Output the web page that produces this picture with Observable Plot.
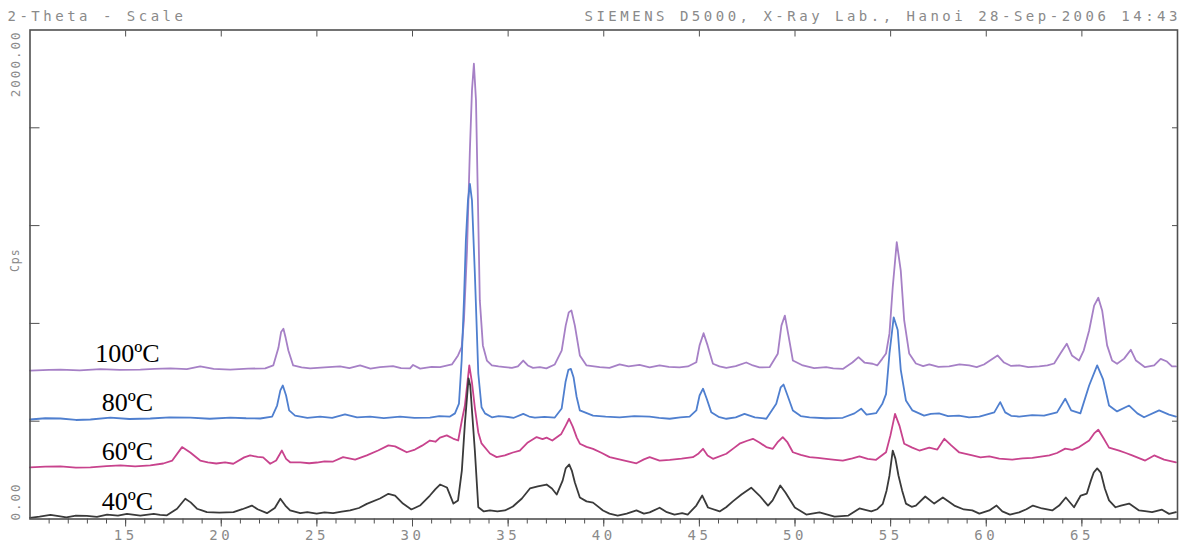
<!DOCTYPE html>
<html><head><meta charset="utf-8">
<script src="https://cdn.jsdelivr.net/npm/d3@7"></script>
<script src="https://cdn.jsdelivr.net/npm/@observablehq/plot@0.6"></script>
<style>
html,body{margin:0;padding:0;background:#fff;}
#chart svg{display:block;}
g[aria-label="x-axis tick label"] text{letter-spacing:3.5px;}
</style></head><body><div id="chart"></div>
<script>
// 2-Theta (deg) vs Cps, as drawn (curves stacked on the plot)
const s100 = [[10,607],[11.0,610],[11.59,611],[12.6,608],[13.68,613],[14.7,610],[15.77,611],[16.5,614],[17.34,616],[18.2,613],[18.9,624],[19.6,614],[20.47,611],[21.4,615],[22.3,616],[22.72,628],[22.99,700],[23.13,765],[23.25,778],[23.37,740],[23.51,689],[23.76,628],[24.2,620],[24.65,616],[25.4,620],[26.21,624],[26.7,617],[27.26,628],[27.8,615],[28.3,621],[28.98,625],[29.4,617],[29.87,616],[30.03,630],[30.4,615],[31.0,622],[31.44,621],[32.06,632],[32.38,669],[32.57,703],[32.69,812],[32.85,1098],[33.0,1507],[33.11,1753],[33.21,1862],[33.32,1712],[33.42,1303],[33.52,894],[33.68,710],[33.89,648],[34.15,628],[34.5,624],[34.83,621],[35.2,618],[35.51,624],[35.79,648],[36.03,628],[36.3,618],[36.66,621],[37.0,616],[37.44,632],[37.8,689],[38.01,791],[38.17,845],[38.31,853],[38.49,791],[38.75,669],[39.1,628],[39.79,621],[40.3,618],[40.83,632],[41.3,624],[41.87,630],[42.4,620],[42.92,628],[43.4,622],[43.96,620],[44.4,624],[44.84,641],[45.01,710],[45.22,760],[45.43,710],[45.71,635],[46.05,624],[46.41,618],[46.9,625],[47.45,640],[47.8,628],[48.14,620],[48.67,621],[49.1,676],[49.29,791],[49.47,832],[49.66,750],[49.89,648],[50.41,628],[51.0,617],[51.63,621],[52.0,616],[52.5,614],[53.0,640],[53.32,662],[53.63,640],[54.06,635],[54.3,628],[54.56,655],[54.76,677],[54.94,759],[55.11,948],[55.32,1132],[55.53,1016],[55.71,812],[55.97,677],[56.32,636],[56.7,625],[57.02,632],[57.5,622],[58.06,624],[58.6,632],[59.11,628],[59.5,621],[59.88,632],[60.59,669],[60.93,640],[61.3,626],[61.72,628],[62.2,621],[62.77,624],[63.2,628],[63.55,636],[63.91,681],[64.21,717],[64.48,669],[64.85,648],[65.1,690],[65.38,771],[65.64,873],[65.86,905],[66.06,853],[66.32,710],[66.58,648],[66.84,635],[67.21,656],[67.56,692],[67.83,648],[68.3,621],[68.78,628],[69.12,655],[69.45,644],[69.71,624],[69.92,624]];
const s80 = [[10,407],[10.8,412],[11.59,411],[12.4,405],[13.16,407],[14.2,415],[15.2,409],[16.29,411],[17.3,416],[18.38,415],[19.4,410],[20.47,415],[21.3,412],[22.04,411],[22.66,419],[22.92,464],[23.09,526],[23.22,546],[23.39,505],[23.55,444],[23.86,423],[24.5,414],[25.17,419],[25.8,414],[26.47,428],[27.1,416],[27.78,419],[28.5,413],[29.35,419],[30.1,414],[30.91,415],[31.4,421],[31.96,419],[32.22,432],[32.43,472],[32.57,648],[32.69,894],[32.79,1139],[32.9,1303],[33.0,1371],[33.11,1303],[33.26,1004],[33.44,595],[33.61,457],[33.79,432],[34.15,416],[34.5,421],[34.83,419],[35.3,414],[35.79,430],[36.1,419],[36.4,415],[36.9,418],[37.44,415],[37.8,452],[38.0,560],[38.15,610],[38.28,614],[38.42,580],[38.58,500],[38.75,444],[39.44,423],[40.1,419],[40.83,416],[41.6,421],[42.4,419],[42.9,414],[43.45,410],[44.0,416],[44.49,419],[44.84,444],[45.01,505],[45.19,533],[45.38,493],[45.62,437],[46.0,418],[46.41,410],[46.9,416],[47.36,430],[47.9,416],[48.5,410],[49.02,471],[49.25,538],[49.4,550],[49.61,505],[49.89,444],[50.3,421],[50.76,416],[51.6,412],[52.5,414],[53.11,432],[53.46,451],[53.74,427],[54.24,433],[54.56,470],[54.76,511],[54.94,677],[55.16,825],[55.37,773],[55.53,610],[55.8,485],[56.14,444],[56.75,423],[57.1,430],[57.53,432],[58.0,421],[58.57,423],[59.1,416],[59.64,419],[60.42,436],[60.73,478],[60.99,436],[61.3,422],[61.72,419],[62.4,425],[63.02,423],[63.7,436],[64.13,492],[64.44,444],[64.92,432],[65.38,546],[65.8,628],[66.11,571],[66.42,464],[66.84,440],[67.47,464],[67.9,432],[68.25,416],[69.04,444],[69.56,427],[69.92,419]];
const s60 = [[10,211],[10.8,214],[11.59,215],[12.4,210],[13.16,211],[14.0,216],[14.73,219],[15.5,215],[16.29,219],[16.97,227],[17.44,239],[17.95,294],[18.38,272],[18.9,239],[19.3,232],[19.74,227],[20.2,232],[20.63,226],[21.2,252],[21.51,260],[21.9,254],[22.19,252],[22.56,226],[22.87,239],[23.17,280],[23.39,246],[23.6,232],[24.13,232],[24.6,228],[25.0,231],[25.4,236],[25.85,235],[26.37,253],[27.0,243],[27.61,260],[28.2,280],[28.74,301],[29.09,297],[29.35,287],[29.7,273],[30.13,284],[30.5,300],[30.91,321],[31.2,316],[31.44,333],[31.79,342],[32.12,329],[32.39,321],[32.58,403],[32.74,464],[32.97,628],[33.11,558],[33.26,456],[33.44,354],[33.61,309],[34.05,268],[34.4,253],[34.83,260],[35.25,272],[35.61,280],[36.03,313],[36.49,335],[36.8,327],[37.01,333],[37.31,321],[37.78,348],[38.01,382],[38.19,410],[38.38,378],[38.59,333],[38.75,308],[39.1,295],[39.44,287],[39.9,270],[40.31,253],[40.7,246],[41.09,239],[41.71,228],[42.1,244],[42.4,253],[42.92,239],[43.45,242],[44.07,247],[44.66,253],[44.96,268],[45.19,287],[45.43,260],[45.71,246],[46.41,267],[46.8,290],[47.1,308],[47.5,320],[47.8,328],[48.14,313],[48.5,294],[48.84,287],[49.08,313],[49.36,335],[49.61,313],[49.89,273],[50.3,262],[50.76,253],[51.2,250],[51.63,246],[52.1,242],[52.5,239],[53.0,248],[53.37,256],[53.8,246],[54.24,242],[54.76,273],[54.99,342],[55.23,430],[55.46,382],[55.71,308],[56.13,292],[56.5,280],[57.02,292],[57.44,284],[57.81,328],[58.17,301],[58.59,272],[59.27,260],[59.7,252],[60.16,256],[60.68,247],[61.36,243],[61.9,248],[62.41,250],[63.3,260],[63.7,270],[64.13,288],[64.5,283],[64.86,294],[65.38,321],[65.64,350],[65.86,365],[66.11,333],[66.42,292],[66.95,280],[67.3,270],[67.63,260],[68.31,239],[68.78,260],[69.3,243],[69.92,232]];
const s40 = [[10.0,5],[10.5,10],[11.07,17],[11.5,12],[11.9,7],[12.4,14],[12.97,13],[13.5,9],[14.03,18],[14.6,14],[15.07,21],[15.77,14],[16.47,21],[16.8,17],[17.16,15],[17.69,42],[18.12,83],[18.4,68],[18.73,42],[19.25,28],[19.9,26],[20.64,28],[21.1,40],[21.6,55],[21.9,40],[22.39,24],[22.8,45],[23.09,83],[23.35,55],[23.6,35],[24.13,24],[24.5,28],[24.99,22],[25.4,27],[25.85,24],[26.3,30],[26.74,35],[27.2,45],[27.61,62],[28.3,84],[28.74,103],[29.09,96],[29.5,63],[29.94,39],[30.39,55],[30.91,96],[31.2,122],[31.44,141],[31.8,129],[32.14,63],[32.38,76],[32.58,198],[32.74,391],[32.93,575],[33.02,546],[33.11,444],[33.26,280],[33.44,48],[33.73,31],[34.05,35],[34.44,31],[34.83,35],[35.25,51],[35.72,84],[36.14,125],[36.55,133],[37.01,141],[37.29,125],[37.54,100],[37.85,157],[38.01,207],[38.19,223],[38.33,198],[38.49,149],[38.75,88],[39.1,72],[39.44,67],[39.96,35],[40.3,22],[40.73,14],[41.2,22],[41.71,35],[42.1,22],[42.4,27],[42.92,46],[43.3,28],[43.7,18],[44.1,24],[44.39,18],[44.84,55],[45.15,96],[45.45,47],[46.06,31],[46.4,48],[46.75,72],[47.2,100],[47.71,128],[48.14,96],[48.59,55],[48.83,76],[49.23,137],[49.5,108],[49.99,47],[50.59,18],[51.28,27],[51.7,18],[52.07,10],[52.79,14],[53.37,43],[53.99,31],[54.3,40],[54.59,62],[54.79,117],[54.94,178],[55.11,280],[55.25,247],[55.41,178],[55.6,117],[55.8,63],[56.1,50],[56.32,55],[56.81,92],[57.28,63],[57.73,88],[58.33,55],[58.83,39],[59.27,35],[59.64,22],[60.16,35],[60.54,55],[60.84,31],[61.24,18],[61.72,27],[62.1,40],[62.44,55],[62.92,43],[63.45,35],[63.81,55],[64.16,88],[64.59,48],[64.94,96],[65.26,104],[65.47,157],[65.62,190],[65.8,207],[65.99,190],[66.2,125],[66.42,76],[66.76,48],[67.04,55],[67.47,63],[67.99,35],[68.3,32],[68.67,28],[69.19,38],[69.56,21],[69.92,28]];

const seriesNames = ["100ºC", "80ºC", "60ºC", "40ºC"];
const seriesData = [s100, s80, s60, s40];
const seriesColors = ["#a680c6", "#4f7fcf", "#c8438d", "#3a3a3a"];
// label anchor (2-Theta, Cps) for each curve name
const labelX = [15.09, 15.09, 15.09, 15.09];
const labelY = [641, 440, 241, 37];

const xMajor = [15, 20, 25, 30, 35, 40, 45, 50, 55, 60, 65];
const xMinor = d3.range(11, 70);
const yTicks = [400, 800, 1200, 1600];
const yEnds = [{v: 0, t: "0.00"}, {v: 2000, t: "2000.00"}];
const headerLeft = "2-Theta - Scale";
const headerRight = "SIEMENS D5000, X-Ray Lab., Hanoi 28-Sep-2006 14:43";
const yTitle = "Cps";

const lines = seriesData.map((s, i) => Plot.line(s.map(([x, y]) => ({x, y})), {
  x: "x", y: "y", stroke: seriesColors[i], strokeWidth: 1.8, curve: "linear", strokeLinejoin: "round"
}));
const labels = seriesNames.map((n, i) => ({name: n, x: labelX[i], y: labelY[i]}));
const grey = "#8a8a8a", axisC = "#505050";
const mono = "DejaVu Sans Mono";

const chart = Plot.plot({
  width: 1183, height: 542,
  marginTop: 29.5, marginBottom: 23.5, marginLeft: 29.5, marginRight: 6,
  x: {domain: [10, 70]},
  y: {domain: [0, 2000]},
  style: {background: "#fff", fontFamily: mono},
  marks: [
    ...lines,
    Plot.frame({stroke: axisC, strokeWidth: 1.6}),
    Plot.axisX(xMinor, {anchor: "bottom", tickSize: 5, tickFormat: () => "", label: null, stroke: axisC}),
    Plot.axisX(xMajor, {anchor: "bottom", tickSize: 8, tickPadding: 3.5, label: null, stroke: axisC, fill: grey, fontSize: 14, fontFamily: mono, tickFormat: d => String(d)}),
    Plot.axisX(xMajor, {anchor: "top", tickSize: 6, dy: 6, tickFormat: () => "", label: null, stroke: axisC}),
    Plot.axisY(yTicks, {anchor: "left", tickSize: 10, dx: 10, tickFormat: () => "", label: null, stroke: axisC}),
    Plot.axisY(yTicks, {anchor: "right", tickSize: 6, dx: -6, tickFormat: () => "", label: null, stroke: axisC}),
    Plot.text([yEnds[0]], {y: "v", text: "t", frameAnchor: "left", rotate: -90, textAnchor: "start", dx: -14.5, dy: 1.5, fontSize: 12.5, fill: grey, fontFamily: mono}),
    Plot.text([yEnds[1]], {y: "v", text: "t", frameAnchor: "left", rotate: -90, textAnchor: "end", dx: -14.5, dy: 0.5, fontSize: 12.5, fill: grey, fontFamily: mono}),
    Plot.text([{v: 1010, t: yTitle}], {y: "v", text: "t", frameAnchor: "left", rotate: -90, dx: -14.5, fontSize: 11.5, fill: grey, fontFamily: mono}),
    Plot.text([headerLeft], {text: d => d, frameAnchor: "top-left", dx: -22.5, dy: -9, lineAnchor: "bottom", textAnchor: "start", fontSize: 14, fill: grey, fontFamily: mono}),
    Plot.text([headerRight], {text: d => d, frameAnchor: "top-left", dx: 554.5, dy: -9, lineAnchor: "bottom", textAnchor: "start", fontSize: 14, fill: grey, fontFamily: mono}),
    Plot.text(labels, {x: "x", y: "y", text: "name", fontFamily: "Liberation Serif", fontSize: 26, fill: "#000", lineAnchor: "bottom", textAnchor: "middle"})
  ]
});
// plotter-style wide character spacing for the instrument texts
d3.select(chart).selectAll("text").each(function () {
  const t = this.textContent;
  if (t === headerLeft || t === headerRight) this.style.letterSpacing = "3.5px";
  if (t === yEnds[0].t || t === yEnds[1].t) this.style.letterSpacing = "2px";
  if (t === yTitle) this.style.letterSpacing = "1px";
});
document.getElementById("chart").append(chart);
</script></body></html>
